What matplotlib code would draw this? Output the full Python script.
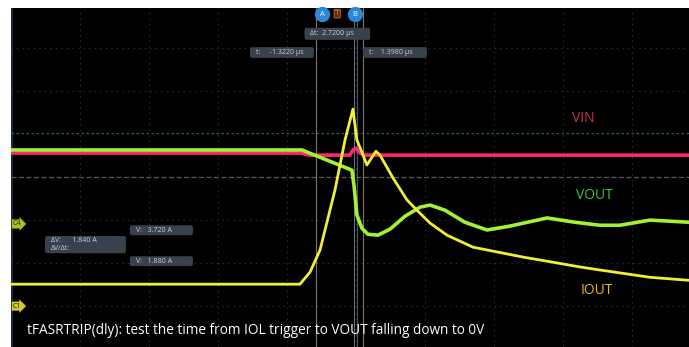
import numpy as np
import matplotlib
matplotlib.use("Agg")
import matplotlib.pyplot as plt
from matplotlib.patches import FancyBboxPatch

plt.rcParams['font.family'] = ['Open Sans', 'DejaVu Sans']

# time in us, vertical in screen divisions
t_vin = [-19.01, -2.26, -1.68, 0.64, 0.81, 0.99, 1.22, 1.51, 20.29]
vin = [0.56, 0.56, 0.51, 0.51, 0.63, 0.67, 0.56, 0.51, 0.51]

t_vout = [-19.01, -2.14, 0.75, 0.87, 1.04, 1.33, 1.68, 2.26, 2.96, 3.83, 4.70, 5.28,
          6.14, 7.30, 8.58, 9.91, 12.06, 13.68, 15.13, 16.29, 18.03, 20.29]
vout = [0.63, 0.63, 0.16, -0.19, -0.88, -1.19, -1.33, -1.35, -1.21, -0.91, -0.70, -0.65,
        -0.77, -1.05, -1.23, -1.14, -0.95, -1.05, -1.12, -1.12, -1.00, -1.05]

t_iout = [-19.01, -2.26, -1.68, -1.10, -0.23, 0.35, 0.81, 1.04, 1.28, 1.62, 2.14, 2.38,
          3.13, 3.94, 4.52, 5.28, 6.26, 7.77, 9.16, 10.67, 12.41, 13.97, 15.13, 18.03, 20.29]
iout = [-2.49, -2.49, -2.21, -1.70, -0.30, 0.86, 1.58, 0.86, 0.63, 0.28, 0.60, 0.51,
        -0.02, -0.53, -0.77, -1.07, -1.35, -1.63, -1.74, -1.86, -1.98, -2.09, -2.16, -2.33, -2.40]

cursor_a = -1.322
cursor_b = 1.398
cur_v_hi = 3.720
cur_v_lo = 1.880

fig = plt.figure(figsize=(6.89, 3.47), dpi=100)
fig.patch.set_facecolor('white')
ax = fig.add_axes([11/689, 0, 678/689, 339/347])
ax.set_facecolor('black')
ax.set_xlim(-19.01, 20.29)
ax.set_ylim(-3.95, 3.93)
ax.set_xticks([]); ax.set_yticks([])
for s in ax.spines.values():
    s.set_visible(False)
ax.axvline(-19.0, color='#1e2836', lw=3)

# graticule
for gx in np.arange(-15, 20, 4):
    ax.axvline(gx, color='#3a3a3a', lw=0.8, ls=(0, (1, 4)))
for gy in [-3, -2, -1, 2, 3]:
    ax.axhline(gy, color='#3a3a3a', lw=0.8, ls=(0, (1, 4)))
ax.axhline(0, color='#5a5a5a', lw=0.9, ls=(0, (4, 2)))
ax.axhline(1.02, color='#25606a', lw=0.9, ls=(0, (2, 2)))

# cursors
ax.axvline(cursor_a, color='#b8a888', lw=0.8, alpha=0.7)
ax.axvline(cursor_b, color='#b8a888', lw=0.8, alpha=0.7)
ax.axvline(0.9, color='#7890a8', lw=0.8, alpha=0.8)
ax.axvline(1.07, color='#7890a8', lw=0.8, alpha=0.6)

# traces
ax.plot(t_vin, vin, color='#ff2868', lw=2.6, solid_joinstyle='round', zorder=3)
ax.plot(t_vout, vout, color='#a4f032', lw=2.6, solid_joinstyle='round', zorder=4)
ax.plot(t_iout, iout, color='#f2ee36', lw=2.0, solid_joinstyle='round', zorder=5)

# trace names
ax.text(14.14, 1.37, 'VIN', color='#d83050', fontsize=10, ha='center', va='center')
ax.text(14.78, -0.42, 'VOUT', color='#3cc048', fontsize=10, ha='center', va='center')
ax.text(14.96, -2.63, 'IOUT', color='#e8b818', fontsize=10, ha='center', va='center')

def readout(x0, x1, y0, y1, txt):
    box = FancyBboxPatch((x0, y0), x1 - x0, y1 - y0,
                         boxstyle='round,pad=0,rounding_size=0.08',
                         fc='#38414c', ec='none', zorder=6)
    ax.add_patch(box)
    ax.text(x0 + 0.35, (y0 + y1) / 2, txt, color='#c8d0d8', fontsize=5,
            ha='left', va='center', zorder=7, linespacing=1.1)

readout(-2.0, 1.81, 3.19, 3.47, '\u0394t:  2.7200 \u00b5s')
readout(-5.16, -1.45, 2.77, 3.02, 't:     %.4f \u00b5s' % cursor_a)
readout(1.39, 5.10, 2.77, 3.02, 't:    %.4f \u00b5s' % cursor_b)
readout(-12.12, -8.46, -1.35, -1.12, 'V:   %.3f A' % cur_v_hi)
readout(-17.04, -12.35, -1.77, -1.37, '\u0394V:      %.3f A\n\u0394V/\u0394t:' % (cur_v_hi - cur_v_lo))
readout(-12.12, -8.46, -2.07, -1.84, 'V:   %.3f A' % cur_v_lo)

# channel tags
ax.text(-18.9, -1.09, 'C4', fontsize=5, color='#202000', va='center', ha='left',
        bbox=dict(boxstyle='rarrow,pad=0.15', fc='#b0c020', ec='none'), zorder=8)
ax.text(-18.9, -3.0, 'C1', fontsize=5, color='#202000', va='center', ha='left',
        bbox=dict(boxstyle='rarrow,pad=0.15', fc='#d0c828', ec='none'), zorder=8)

# top markers
ax.plot([-0.98, 0.93], [3.78, 3.78], 'o', ms=11, color='#2a88d8', mec='none', zorder=8, clip_on=False)
ax.text(-0.98, 3.78, 'A', color='white', fontsize=5.5, ha='center', va='center', zorder=9)
ax.text(0.93, 3.78, 'B', color='white', fontsize=5.5, ha='center', va='center', zorder=9)
ax.text(-0.1, 3.8, 'T', color='#e08030', fontsize=6, ha='center', va='center', zorder=9,
        bbox=dict(boxstyle='round,pad=0.1', fc='#5a3010', ec='#c07030', lw=0.6))

ax.text(0.024, 0.05, 'tFASRTRIP(dly): test the time from IOL trigger to VOUT falling down to 0V',
        transform=ax.transAxes, color='white', fontsize=9.8, ha='left', va='center')

fig.savefig('out.png', dpi=100, facecolor='white')
